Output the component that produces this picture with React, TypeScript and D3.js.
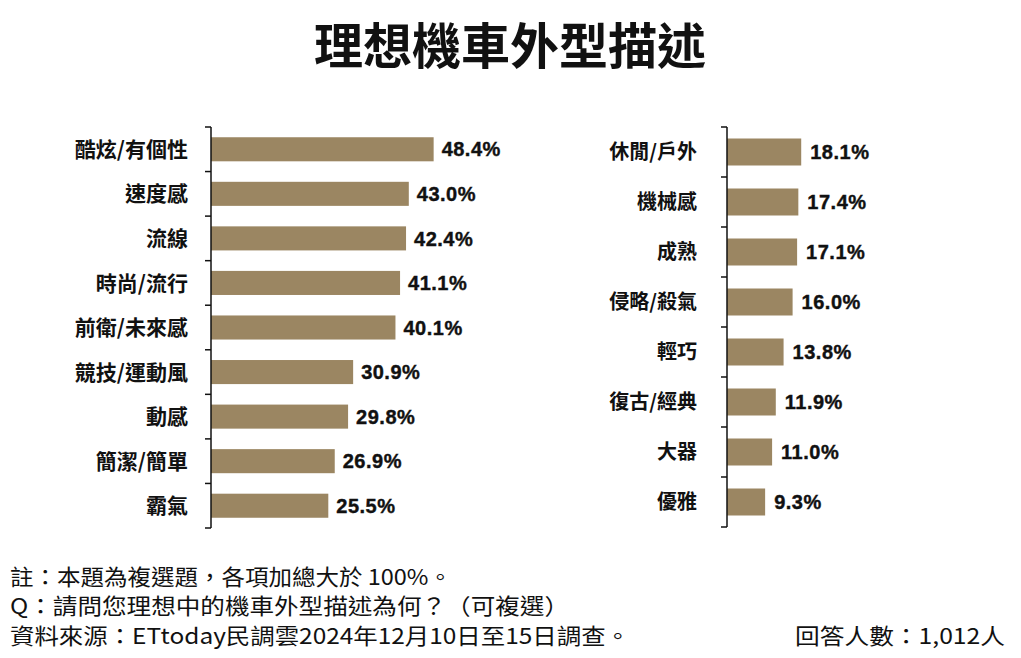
import React from "react";
import * as d3 from "d3";

const TITLE = "理想機車外型描述";
const leftCategories = ["酷炫/有個性", "速度感", "流線", "時尚/流行", "前衛/未來感", "競技/運動風", "動感", "簡潔/簡單", "霸氣"];
const leftValues = [48.4, 43.0, 42.4, 41.1, 40.1, 30.9, 29.8, 26.9, 25.5];
const rightCategories = ["休閒/戶外", "機械感", "成熟", "侵略/殺氣", "輕巧", "復古/經典", "大器", "優雅"];
const rightValues = [18.1, 17.4, 17.1, 16.0, 13.8, 11.9, 11.0, 9.3];
const footerLines = [
  "註：本題為複選題，各項加總大於 100%。",
  "Q：請問您理想中的機車外型描述為何？（可複選）",
  "資料來源：ETtoday民調雲2024年12月10日至15日調查。",
];
const footerWidths = [442, 559, 620];
const sampleNote = "回答人數：1,012人";

const BAR = "#9b8662";
const CJK = "'Noto Sans CJK TC', 'Noto Sans CJK SC', sans-serif";
const NUM = "'Liberation Sans', Arial, sans-serif";
const FOOT = "'Noto Sans CJK TC', sans-serif";

type PanelProps = {
  cats: string[];
  vals: number[];
  axisX: number;
  y0: number;
  y1: number;
  domainMax: number;
  rangeW: number;
  labelSize: number;
  labelGap: number;
  valueGap: number;
};

function Panel({ cats, vals, axisX, y0, y1, domainMax, rangeW, labelSize, labelGap, valueGap }: PanelProps) {
  const y = d3.scaleBand<string>().domain(cats).range([y0, y1]).paddingInner(0.46).paddingOuter(0.23);
  const x = d3.scaleLinear().domain([0, domainMax]).range([axisX, axisX + rangeW]);
  const step = y.step();
  const ticks = d3.range(cats.length + 1).map((i) => y0 + i * step);
  return (
    <g>
      {cats.map((c, i) => (
        <g key={c}>
          <rect x={x(0)} y={y(c)!} width={x(vals[i]) - x(0)} height={y.bandwidth()} fill={BAR} />
          <text
            x={x(vals[i]) + valueGap}
            y={y(c)! + y.bandwidth() / 2}
            dy="0.36em"
            fontFamily={NUM}
            fontWeight="bold"
            fontSize={20}
            letterSpacing={0.5}
            stroke="#111"
            strokeWidth={0.4}
            fill="#111"
          >
            {vals[i].toFixed(1)}%
          </text>
          <text
            x={axisX - labelGap}
            y={y(c)! + y.bandwidth() / 2}
            dy="0.36em"
            textAnchor="end"
            fontFamily={CJK}
            fontWeight="bold"
            fontSize={labelSize}
            fill="#111"
          >
            {c}
          </text>
        </g>
      ))}
      <line x1={axisX} x2={axisX} y1={y0} y2={y1} stroke="#111" strokeWidth={1.5} />
      {ticks.map((t, i) => (
        <line key={i} x1={axisX - 6} x2={axisX} y1={t} y2={t} stroke="#111" strokeWidth={1.5} />
      ))}
    </g>
  );
}

export default function App() {
  const W = 1021;
  const H = 658;
  return (
    <svg width={W} height={H} style={{ position: "absolute", left: 0, top: 0, background: "#fff" }}>
      <rect width={W} height={H} fill="#fff" />
      <text x={510} y={46} dy="0.36em" textAnchor="middle" fontFamily={CJK} fontWeight="bold" fontSize={49} fill="#111">
        {TITLE}
      </text>
      <Panel cats={leftCategories} vals={leftValues} axisX={211} y0={127} y1={528} domainMax={50} rangeW={230} labelSize={21} labelGap={23} valueGap={8} />
      <Panel cats={rightCategories} vals={rightValues} axisX={727} y0={127} y1={527} domainMax={20} rangeW={82} labelSize={20} labelGap={30} valueGap={9} />
      {footerLines.map((l, i) => (
        <text
          key={i}
          x={10}
          y={577 + i * 29.5}
          dy="0.36em"
          fontFamily={FOOT}
          fontSize={22}
          textLength={footerWidths[i]}
          lengthAdjust="spacingAndGlyphs"
          fill="#111"
        >
          {l}
        </text>
      ))}
      <text
        x={795}
        y={636}
        dy="0.36em"
        fontFamily={FOOT}
        fontSize={22}
        textLength={210}
        lengthAdjust="spacingAndGlyphs"
        fill="#111"
      >
        {sampleNote}
      </text>
    </svg>
  );
}
